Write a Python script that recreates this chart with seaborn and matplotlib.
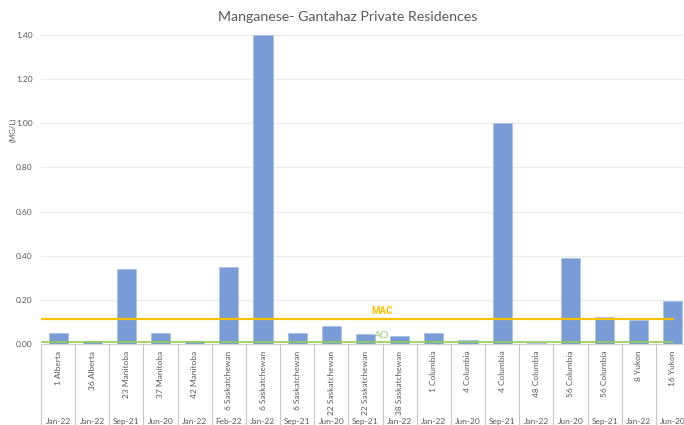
import matplotlib
matplotlib.use("Agg")
import matplotlib.pyplot as plt
import matplotlib.transforms as mtransforms
import pandas as pd
import seaborn as sns

sites = ["1 Alberta", "36 Alberta", "23 Manitoba", "37 Manitoba", "42 Manitoba",
         "6 Saskatchewan", "6 Saskatchewan", "6 Saskatchewan", "22 Saskatchewan",
         "22 Saskatchewan", "38 Saskatchewan", "1 Columbia", "4 Columbia",
         "4 Columbia", "48 Columbia", "56 Columbia", "56 Columbia", "8 Yukon", "16 Yukon"]
dates = ["Jan-22", "Jan-22", "Sep-21", "Jun-20", "Jan-22", "Feb-22", "Jan-22", "Sep-21",
         "Jun-20", "Sep-21", "Jan-22", "Jan-22", "Jun-20", "Sep-21", "Jan-22", "Jun-20",
         "Sep-21", "Jan-22", "Jun-20"]
manganese = [0.05, 0.015, 0.34, 0.05, 0.015, 0.35, 1.40, 0.05, 0.082, 0.045, 0.035,
             0.05, 0.02, 1.00, 0.005, 0.39, 0.123, 0.11, 0.195]
mac = 0.115
ao = 0.01

df = pd.DataFrame({"site": sites, "date": dates, "mn": manganese})
df["key"] = [f"{s}|{d}|{i}" for i, (s, d) in enumerate(zip(sites, dates))]

sns.set_style("white")
plt.rcParams["font.family"] = ["Lato", "DejaVu Sans"]

fig = plt.figure(figsize=(6.84, 4.25), dpi=100)
ax = fig.add_axes([41 / 684, 81 / 425, 649 / 684, 309 / 425])

sns.barplot(data=df, x="key", y="mn", color="#7A9CD6", saturation=1, width=0.56,
            edgecolor="#A9C0E8", linewidth=0.6, ax=ax, zorder=2)

n = len(df)
ax.set_xlim(-0.5, n - 0.5)
ax.set_ylim(0, 1.40)
ax.set_yticks([0, 0.2, 0.4, 0.6, 0.8, 1.0, 1.2, 1.4])
ax.set_yticklabels([f"{v:.2f}" for v in ax.get_yticks()], fontsize=6, color="#595959")
ax.tick_params(axis="y", length=0, pad=6)
ax.grid(axis="y", color="#EBEBEB", linewidth=0.8, zorder=0)
ax.set_axisbelow(True)
ax.set_xticks([])
ax.set_xlabel("")
ax.set_ylabel("")
for sp in ["top", "right", "left"]:
    ax.spines[sp].set_visible(False)
ax.spines["bottom"].set_color("#D0D0D0")

# guideline lines
ax.plot([-0.5, n - 1], [mac, mac], color="#FFC000", linewidth=1.6, zorder=3)
ax.plot([-0.5, n - 1], [ao, ao], color="#92D050", linewidth=1.2, zorder=3)
ax.text(9.5, mac + 0.012, "MAC", color="#FFC000", fontsize=7, fontweight="bold",
        family="Roboto", ha="center", va="bottom", zorder=4)
ax.text(9.48, ao + 0.007, "AO", color="#9CCB78", fontsize=7.5, ha="center",
        va="bottom", zorder=4)

# two-level category axis
trans = mtransforms.blended_transform_factory(ax.transData, ax.transAxes)
for i in range(n + 1):
    ax.plot([i - 0.5, i - 0.5], [0, -0.27], color="#C8C8C8", linewidth=0.8,
            transform=trans, clip_on=False)
for i, (s, d) in enumerate(zip(sites, dates)):
    ax.text(i, -0.022, s, rotation=90, ha="center", va="top", fontsize=6,
            color="#595959", transform=trans)
    ax.text(i, -0.252, d, ha="center", va="center", fontsize=6,
            color="#595959", transform=trans)

fig.text(0.508, 1 - 17 / 425, "Manganese- Gantahaz Private Residences", ha="center",
         va="center", fontsize=10.2, color="#595959")
fig.text(13 / 684, 1 - 130 / 425, "(MG/L)", rotation=90, ha="center", va="center",
         fontsize=5.5, color="#595959")

fig.savefig("out.png", dpi=100)
